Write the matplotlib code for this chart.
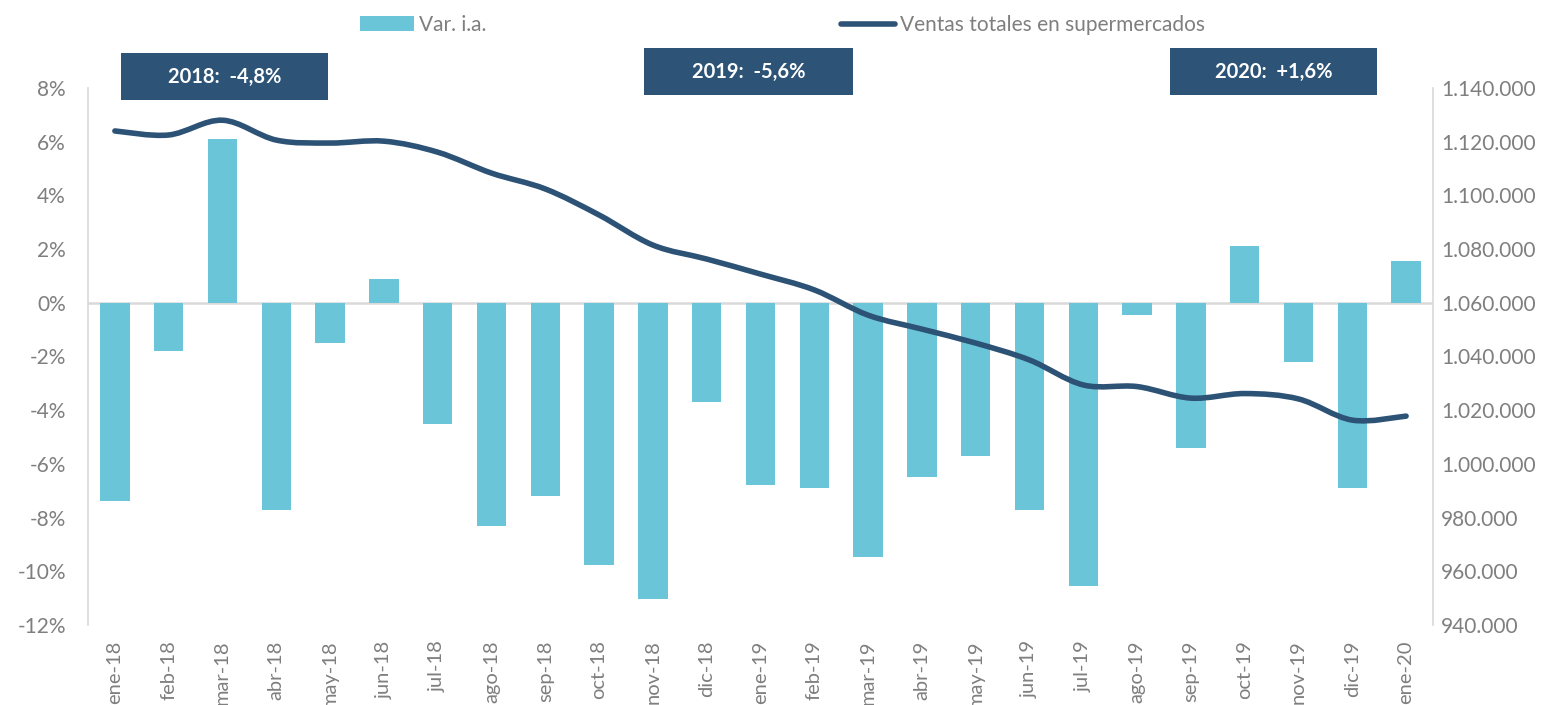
import numpy as np
import matplotlib
matplotlib.use("Agg")
import matplotlib.pyplot as plt
from matplotlib.path import Path
from matplotlib.patches import PathPatch, Rectangle
from matplotlib.lines import Line2D
from matplotlib.ticker import FuncFormatter

# DATA
MONTHS = ["ene-18", "feb-18", "mar-18", "abr-18", "may-18", "jun-18", "jul-18",
          "ago-18", "sep-18", "oct-18", "nov-18", "dic-18", "ene-19", "feb-19",
          "mar-19", "abr-19", "may-19", "jun-19", "jul-19", "ago-19", "sep-19",
          "oct-19", "nov-19", "dic-19", "ene-20"]
VAR_IA = [-7.4, -1.8, 6.1, -7.7, -1.5, 0.9, -4.5, -8.3, -7.2, -9.75, -11.05, -3.7,
          -6.8, -6.9, -9.45, -6.5, -5.7, -7.7, -10.55, -0.45, -5.4, 2.1, -2.2,
          -6.9, 1.55]
VENTAS = [1124000, 1122500, 1128000, 1120600, 1119500, 1120200, 1116100,
          1108300, 1102400, 1092700, 1081500, 1076300, 1070700, 1064800,
          1055400, 1050200, 1045000, 1038700, 1029400, 1028800, 1024500,
          1026200, 1024200, 1016300, 1017800]
BOX_LABELS = ["2018:  -4,8%", "2019:  -5,6%", "2020:  +1,6%"]
LEFT_TICKS = list(range(-12, 9, 2))
RIGHT_TICKS = list(range(940000, 1140001, 20000))

# STYLE
BAR_COLOR = "#6BC5D9"
LINE_COLOR = "#2C5276"
BOX_COLOR = "#2D5477"
TEXT_GRAY = "#7F7F7F"
AXIS_GRAY = "#D9D9D9"
FONT = ["Lato", "DejaVu Sans"]

W, H = 1555, 705
# box rectangles in pixels (x0, y_top, width, height)
BOX_PIX = [(121, 53, 207, 47), (644, 48, 209, 47), (1170, 48, 207, 47)]

plt.rcParams["font.family"] = FONT


def smooth_path(x, y):
    # bezier curve through the points (same idea as a smoothed spreadsheet line)
    pts = np.column_stack([x, y]).astype(float)
    n = len(pts)
    verts = [pts[0]]
    codes = [Path.MOVETO]
    for i in range(n - 1):
        p0 = pts[i - 1] if i > 0 else pts[i]
        p1 = pts[i]
        p2 = pts[i + 1]
        p3 = pts[i + 2] if i + 2 < n else pts[i + 1]
        c1 = p1 + (p2 - p0) / 6.0
        c2 = p2 - (p3 - p1) / 6.0
        verts += [c1, c2, p2]
        codes += [Path.CURVE4] * 3
    return Path(verts, codes)


fig = plt.figure(figsize=(W / 100, H / 100), dpi=100)
ax = fig.add_axes([88 / W, 1 - 625 / H, (1433 - 88) / W, (625 - 88) / H])
ax2 = ax.twinx()

x = np.arange(len(MONTHS))
bars = ax.bar(x, VAR_IA, width=0.55, color=BAR_COLOR, zorder=2)
ax.axhline(0, color=AXIS_GRAY, lw=1.8, zorder=1)

ax.set_xlim(-0.5, len(MONTHS) - 0.5)
ax.set_ylim(-12, 8)
ax.set_yticks(LEFT_TICKS)
ax.yaxis.set_major_formatter(FuncFormatter(lambda v, p: f"{v:.0f}%"))
ax.set_xticks(x)
ax.set_xticklabels(MONTHS, rotation=90, fontsize=14.5, color=TEXT_GRAY)
ax.tick_params(axis="x", length=0, pad=11)
ax.tick_params(axis="y", length=0, pad=16, labelsize=15, labelcolor=TEXT_GRAY)

ax2.set_ylim(940000, 1140000)
ax2.set_yticks(RIGHT_TICKS)
ax2.yaxis.set_major_formatter(FuncFormatter(lambda v, p: f"{v:,.0f}".replace(",", ".")))
ax2.tick_params(axis="y", length=0, pad=6, labelsize=15, labelcolor=TEXT_GRAY)

line_patch = PathPatch(smooth_path(x, VENTAS), facecolor="none", edgecolor=LINE_COLOR,
                       lw=4.0, capstyle="round", joinstyle="round",
                       transform=ax2.transData, zorder=3)
ax2.add_patch(line_patch)

for a in (ax, ax2):
    for side in ("top", "bottom"):
        a.spines[side].set_visible(False)
ax.spines["right"].set_visible(False)
ax2.spines["left"].set_visible(False)
ax.spines["left"].set_color(AXIS_GRAY)
ax2.spines["right"].set_color(AXIS_GRAY)
ax.spines["left"].set_linewidth(1.2)
ax2.spines["right"].set_linewidth(1.2)

# year summary boxes
for (bx, by, bw, bh), label in zip(BOX_PIX, BOX_LABELS):
    fig.patches.append(Rectangle((bx / W, 1 - (by + bh) / H), bw / W, bh / H,
                                 transform=fig.transFigure, facecolor=BOX_COLOR,
                                 edgecolor="none"))
    fig.text((bx + bw / 2) / W, 1 - (by + bh / 2) / H, label, color="white",
             fontsize=14.5, fontweight="bold", ha="center", va="center")

handles = [Rectangle((0, 0), 1, 1, facecolor=BAR_COLOR, edgecolor="none"),
           Line2D([0], [0], color=LINE_COLOR, lw=4.0, solid_capstyle="round")]
fig.legend(handles, ["Var. i.a.", "Ventas totales en supermercados"],
           loc="center left", bbox_to_anchor=(341 / W, 1 - 25 / H), ncol=2,
           frameon=False, labelcolor=TEXT_GRAY,
           handlelength=2.6, handleheight=0.75, handletextpad=0.25,
           columnspacing=17.0, prop={"size": 15})

fig.savefig("out.png", dpi=100, facecolor="white")
